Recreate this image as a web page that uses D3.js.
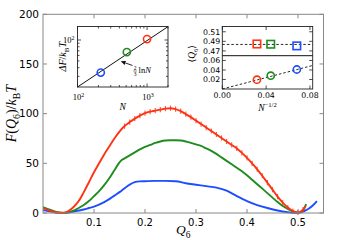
<!DOCTYPE html>
<html><head><meta charset="utf-8">
<script src="https://cdn.jsdelivr.net/npm/d3@7"></script>
<style>body{margin:0;background:#fff} svg{display:block}</style>
</head><body><svg id="c" width="338" height="240"></svg>
<script>
// ---------- main plot data ----------
const qRed = [0,0.01,0.02,0.03,0.04,0.05,0.06,0.07,0.08,0.09,0.10,0.11,0.12,0.13,0.14,0.15,0.16,0.17,0.18,0.19,0.20,0.21,0.22,0.23,0.24,0.25,0.26,0.27,0.28,0.29,0.30,0.31,0.32,0.33,0.34,0.35,0.36,0.37,0.38,0.39,0.40,0.41,0.42,0.43,0.44,0.45,0.46,0.47,0.48,0.49,0.50,0.51,0.515];
const fRed = [5,3,1.2,0.2,0.3,2,6,12,21,31,41,50,59,67,75,82,87.5,91.5,95,98,100.5,102,103,104,105,105.5,104.5,102.5,99.5,96.5,93,89.5,86,82.5,79,75.5,72,68.5,65,60.5,55.5,50,44,37.5,30.5,23.5,16.5,10.5,5.5,2,0.5,3.5,7];
const qGreen = [0,0.01,0.02,0.03,0.04,0.05,0.06,0.07,0.08,0.09,0.10,0.11,0.12,0.13,0.14,0.15,0.155,0.16,0.17,0.18,0.19,0.20,0.21,0.22,0.23,0.24,0.25,0.26,0.27,0.28,0.29,0.30,0.31,0.32,0.33,0.34,0.35,0.36,0.37,0.38,0.39,0.40,0.41,0.42,0.43,0.44,0.45,0.46,0.47,0.48,0.49,0.50,0.51,0.516];
const fGreen = [6,4,2,0.5,0,1,2.5,5,8,12,17,22,28,35,43,51,53.5,55,58,61,64,66.5,68.5,70.5,72,73,73.3,73.3,73,72,70.5,69,67.5,65,62.5,59.5,56,52.5,49,45.5,42,38,33.5,29,24.5,20,15.5,11,7,4,1.5,0.5,3,9];
const qBlue = [0,0.01,0.02,0.03,0.04,0.05,0.06,0.07,0.08,0.09,0.10,0.11,0.12,0.13,0.14,0.15,0.16,0.17,0.18,0.19,0.20,0.22,0.24,0.26,0.28,0.30,0.32,0.34,0.36,0.38,0.40,0.42,0.44,0.46,0.48,0.49,0.50,0.51,0.52,0.53,0.537];
const fBlue = [3,2,1,0.3,0,0.5,1.5,2.5,3.5,5,6.5,8.5,11,14,17.5,21,25,28.5,31,31.8,32,32.3,32.3,32,30,28.5,27,25.5,22.5,17,12,8,5,2.5,0.8,0.2,0.3,1.5,4,8,12];
const errHalf = 2.6;          // red error-bar half height (k_BT)
const errFrom = 0.16;          // error bars shown from this Q on
const xTicks = [0.1,0.2,0.3,0.4,0.5];
const yTicks = [0,50,100,150,200];

// ---------- inset 1 data ----------
const nVals = [216, 512, 1000];
const dFVals = [34, 67, 103];
const fitN = [100, 2000];
const fitF = [21.1, 155.6];
const in1XTicks = [100, 1000];
const in1XMinor = [200,300,400,500,600,700,800,900,2000];
const in1YTicks = [100];
const in1YMinor = [30,40,50,60,70,80,90];

// ---------- inset 2 data ----------
const invSqrtN = [0.0316, 0.0442, 0.068];
const q6Vals = [0.4845, 0.484, 0.4805];
const q6Mean = 0.4835;
const q4Vals = [0.0195, 0.028, 0.041];
const q4FitX = [0, 0.0825];
const q4FitY = [0, 0.0495];
const in2XTicks = [0, 0.04, 0.08];
const in2UpTicks = [0.47, 0.49, 0.51];
const in2LoTicks = [0.02, 0.04, 0.06];

const colors = ["#ff3311", "#1e8c1e", "#1f4cff"]; // N=1000, 512, 216
const ptColors = ["#1f4cff", "#1e8c1e", "#ff3311"]; // by nVals order

const svg = d3.select("#c");
const SANS = "'DejaVu Sans', sans-serif";
const SERIF = "'Liberation Serif', 'DejaVu Serif', serif";

function mathText(g, parts, size) {
  const t = g.append("text").attr("font-family", SERIF).attr("font-size", size).attr("fill", "#000");
  let off = 0;
  parts.forEach(([s, k]) => {
    const ts = t.append("tspan").text(s);
    let target = 0, fs = size;
    if (k === "sub" || k === "subi") { target = size * 0.3; fs = size * 0.7; }
    if (k === "sup") { target = -size * 0.4; fs = size * 0.7; }
    ts.attr("dy", target - off).attr("font-size", fs)
      .attr("font-style", (k === "i" || k === "subi") ? "italic" : "normal");
    off = target;
  });
  return t;
}

// ---------- main plot ----------
const X0 = 43, X1 = 323.5, Y0 = 14.3, Y1 = 213;
const x = d3.scaleLinear().domain([0, 0.55]).range([X0, X1]);
const y = d3.scaleLinear().domain([0, 200]).range([Y1, Y0]);

const main = svg.append("g");
const line = d3.line().x(d => x(d[0])).y(d => y(d[1])).curve(d3.curveMonotoneX);
const series = [[qBlue, fBlue, colors[2]], [qGreen, fGreen, colors[1]], [qRed, fRed, colors[0]]];

svg.append("clipPath").attr("id", "mc").append("rect")
  .attr("x", X0).attr("y", Y0).attr("width", X1 - X0).attr("height", Y1 - Y0 + 1);

series.forEach(([qs, fs, c]) => {
  main.append("path").datum(d3.zip(qs, fs)).attr("d", line)
    .attr("fill", "none").attr("stroke", c).attr("stroke-width", 1.9)
    .attr("clip-path", "url(#mc)");
});
main.append("g").selectAll("line").data(d3.zip(qRed, fRed).filter(d => d[0] >= errFrom && d[0] <= 0.51))
  .join("line")
  .attr("x1", d => x(d[0])).attr("x2", d => x(d[0]))
  .attr("y1", d => y(d[1] + errHalf)).attr("y2", d => y(d[1] - errHalf))
  .attr("stroke", colors[0]).attr("stroke-width", 1.1).attr("opacity", 0.85);

const frameCol = "#888";
main.append("rect").attr("x", X0).attr("y", Y0).attr("width", X1 - X0).attr("height", Y1 - Y0)
  .attr("fill", "none").attr("stroke", frameCol).attr("stroke-width", 1);
const tl = 4;
const tg = main.append("g").attr("stroke", frameCol).attr("stroke-width", 1);
xTicks.forEach(v => {
  tg.append("line").attr("x1", x(v)).attr("x2", x(v)).attr("y1", Y1).attr("y2", Y1 - tl);
  tg.append("line").attr("x1", x(v)).attr("x2", x(v)).attr("y1", Y0).attr("y2", Y0 + tl);
});
yTicks.forEach(v => {
  tg.append("line").attr("x1", X0).attr("x2", X0 + tl).attr("y1", y(v)).attr("y2", y(v));
  tg.append("line").attr("x1", X1).attr("x2", X1 - tl).attr("y1", y(v)).attr("y2", y(v));
});
main.append("g").selectAll("text").data(xTicks).join("text")
  .attr("x", d => x(d)).attr("y", 225.5).attr("text-anchor", "middle")
  .attr("font-family", SANS).attr("font-size", 10).text(d => d3.format(".1f")(d));
main.append("g").selectAll("text").data(yTicks).join("text")
  .attr("x", X0 - 4).attr("y", d => y(d) + 3.7).attr("text-anchor", "end")
  .attr("font-family", SANS).attr("font-size", 10.5).text(d => d);

mathText(main, [["F", "i"], ["(", "r"], ["Q", "i"], ["6", "sub"], [")/", "r"], ["k", "i"], ["B", "sub"], ["T", "i"]], 14)
  .attr("text-anchor", "middle").attr("transform", `translate(16,${(Y0 + Y1) / 2}) rotate(-90)`);
mathText(main, [["Q", "i"], ["6", "sub"]], 13.5)
  .attr("text-anchor", "middle").attr("x", (X0 + X1) / 2).attr("y", 234);

// ---------- inset 1 ----------
const A0 = 77.5, A1 = 168, B0 = 26.5, B1 = 87;
const lx = d3.scaleLog().domain([100, 2000]).range([A0, A1]);
const ly = d3.scaleLog().domain([21.1, 156.3]).range([B1, B0]);
const in1 = svg.append("g");
in1.append("rect").attr("x", A0).attr("y", B0).attr("width", A1 - A0).attr("height", B1 - B0)
  .attr("fill", "#fff").attr("stroke", "#222").attr("stroke-width", 0.9);
in1.append("path").datum(d3.zip(fitN, fitF))
  .attr("d", d3.line().x(d => lx(d[0])).y(d => ly(d[1])))
  .attr("stroke", "#111").attr("stroke-width", 1).attr("fill", "none");
const t1 = in1.append("g").attr("stroke", "#222").attr("stroke-width", 0.8);
in1XTicks.forEach(v => {
  t1.append("line").attr("x1", lx(v)).attr("x2", lx(v)).attr("y1", B1).attr("y2", B1 - 3.5);
  t1.append("line").attr("x1", lx(v)).attr("x2", lx(v)).attr("y1", B0).attr("y2", B0 + 3.5);
});
in1XMinor.forEach(v => {
  t1.append("line").attr("x1", lx(v)).attr("x2", lx(v)).attr("y1", B1).attr("y2", B1 - 2);
  t1.append("line").attr("x1", lx(v)).attr("x2", lx(v)).attr("y1", B0).attr("y2", B0 + 2);
});
in1YTicks.forEach(v => {
  t1.append("line").attr("x1", A0).attr("x2", A0 + 3.5).attr("y1", ly(v)).attr("y2", ly(v));
  t1.append("line").attr("x1", A1).attr("x2", A1 - 3.5).attr("y1", ly(v)).attr("y2", ly(v));
});
in1YMinor.forEach(v => {
  t1.append("line").attr("x1", A0).attr("x2", A0 + 2).attr("y1", ly(v)).attr("y2", ly(v));
  t1.append("line").attr("x1", A1).attr("x2", A1 - 2).attr("y1", ly(v)).attr("y2", ly(v));
});
in1.selectAll("circle.p").data(d3.zip(nVals, dFVals, ptColors)).join("circle")
  .attr("cx", d => lx(d[0])).attr("cy", d => ly(d[1])).attr("r", 3.6)
  .attr("fill", "none").attr("stroke", d => d[2]).attr("stroke-width", 1.6);
in1XTicks.forEach(v => {
  mathText(in1, [["10", "r"], [String(Math.round(Math.log10(v))), "sup"]], 8.5)
    .attr("text-anchor", "middle").attr("x", lx(v) + 1).attr("y", 100);
});
in1YTicks.forEach(v => {
  mathText(in1, [["10", "r"], [String(Math.round(Math.log10(v))), "sup"]], 8.5)
    .attr("text-anchor", "end").attr("x", A0 - 3).attr("y", ly(v) + 3);
});
mathText(in1, [["N", "i"]], 9.5).attr("text-anchor", "middle").attr("x", (A0 + A1) / 2).attr("y", 110);
mathText(in1, [["ΔF", "i"], ["/", "r"], ["k", "i"], ["B", "sub"], ["T", "i"]], 10)
  .attr("text-anchor", "middle").attr("transform", `translate(66,${(B0 + B1) / 2}) rotate(-90)`);
const tip = [429, 49], tail = [618, 43];
svg.append("defs").append("marker").attr("id", "ah").attr("viewBox", "0 0 10 10")
  .attr("refX", 9).attr("refY", 5).attr("markerWidth", 5).attr("markerHeight", 5).attr("orient", "auto")
  .append("path").attr("d", "M0,0L10,5L0,10z").attr("fill", "#111");
in1.append("line").attr("x1", lx(tail[0])).attr("y1", ly(tail[1])).attr("x2", lx(tip[0])).attr("y2", ly(tip[1]))
  .attr("stroke", "#111").attr("stroke-width", 0.9).attr("marker-end", "url(#ah)");
const fx = lx(tail[0]) + 2.5, fy = ly(tail[1]) + 5;
in1.append("text").attr("x", fx).attr("y", fy - 0.5).attr("text-anchor", "middle")
  .attr("font-family", SERIF).attr("font-size", 5.5).text("2");
in1.append("line").attr("x1", fx - 1.8).attr("x2", fx + 1.8).attr("y1", fy + 0.5).attr("y2", fy + 0.5)
  .attr("stroke", "#111").attr("stroke-width", 0.5);
in1.append("text").attr("x", fx).attr("y", fy + 5.5).attr("text-anchor", "middle")
  .attr("font-family", SERIF).attr("font-size", 5.5).text("3");
mathText(in1, [["ln", "r"], ["N", "i"]], 8.5).attr("x", fx + 3.5).attr("y", fy + 3);

// ---------- inset 2 ----------
const C0 = 222.3, C1 = 312.7, D0 = 26.5, DM = 55.7, D1 = 89;
const ix = d3.scaleLinear().domain([0, 0.0825]).range([C0, C1]);
const iyU = d3.scaleLinear().domain([0.46, 0.521]).range([DM, D0]);
const iyL = d3.scaleLinear().domain([0, 0.07]).range([D1, DM]);
const in2 = svg.append("g");
in2.append("rect").attr("x", C0).attr("y", D0).attr("width", C1 - C0).attr("height", D1 - D0)
  .attr("fill", "#fff").attr("stroke", "#222").attr("stroke-width", 0.9);
in2.append("line").attr("x1", C0).attr("x2", C1).attr("y1", DM).attr("y2", DM)
  .attr("stroke", "#111").attr("stroke-width", 1);
const t2 = in2.append("g").attr("stroke", "#222").attr("stroke-width", 0.8);
in2XTicks.forEach(v => {
  t2.append("line").attr("x1", ix(v)).attr("x2", ix(v)).attr("y1", D1).attr("y2", D1 - 3.5);
  t2.append("line").attr("x1", ix(v)).attr("x2", ix(v)).attr("y1", D0).attr("y2", D0 + 3.5);
});
in2UpTicks.forEach(v => {
  t2.append("line").attr("x1", C0).attr("x2", C0 + 3.5).attr("y1", iyU(v)).attr("y2", iyU(v));
  t2.append("line").attr("x1", C1).attr("x2", C1 - 3.5).attr("y1", iyU(v)).attr("y2", iyU(v));
});
in2LoTicks.forEach(v => {
  t2.append("line").attr("x1", C0).attr("x2", C0 + 3.5).attr("y1", iyL(v)).attr("y2", iyL(v));
  t2.append("line").attr("x1", C1).attr("x2", C1 - 3.5).attr("y1", iyL(v)).attr("y2", iyL(v));
});
in2.append("line").attr("x1", ix(0)).attr("x2", ix(0.0825)).attr("y1", iyU(q6Mean)).attr("y2", iyU(q6Mean))
  .attr("stroke", "#111").attr("stroke-width", 0.9).attr("stroke-dasharray", "2.5,2");
in2.append("path").datum(d3.zip(q4FitX, q4FitY))
  .attr("d", d3.line().x(d => ix(d[0])).y(d => iyL(d[1])))
  .attr("stroke", "#111").attr("stroke-width", 0.9).attr("stroke-dasharray", "2.5,2").attr("fill", "none");
const s = 7.5;
in2.selectAll("rect.sq").data(d3.zip(invSqrtN, q6Vals, ptColors.slice().reverse())).join("rect")
  .attr("x", d => ix(d[0]) - s / 2).attr("y", d => iyU(d[1]) - s / 2).attr("width", s).attr("height", s)
  .attr("fill", "none").attr("stroke", d => d[2]).attr("stroke-width", 1.6);
in2.selectAll("circle.c").data(d3.zip(invSqrtN, q4Vals, ptColors.slice().reverse())).join("circle")
  .attr("cx", d => ix(d[0])).attr("cy", d => iyL(d[1])).attr("r", 3.6)
  .attr("fill", "none").attr("stroke", d => d[2]).attr("stroke-width", 1.6);
in2.append("g").selectAll("text").data(in2XTicks).join("text")
  .attr("x", d => ix(d)).attr("y", 97.5).attr("text-anchor", "middle")
  .attr("font-family", SANS).attr("font-size", 7.8).text(d => d3.format(".2f")(d));
in2.append("g").selectAll("text").data(in2UpTicks).join("text")
  .attr("x", C0 - 2).attr("y", d => iyU(d) + 2.8).attr("text-anchor", "end")
  .attr("font-family", SANS).attr("font-size", 7.8).text(d => d3.format(".2f")(d));
in2.append("g").selectAll("text").data(in2LoTicks).join("text")
  .attr("x", C0 - 2).attr("y", d => iyL(d) + 2.8).attr("text-anchor", "end")
  .attr("font-family", SANS).attr("font-size", 7.8).text(d => d3.format(".2f")(d));
mathText(in2, [["⟨", "r"], ["Q", "i"], ["6", "sub"], ["⟩", "r"]], 9.5)
  .attr("text-anchor", "middle").attr("transform", `translate(195,${(D0 + D1) / 2 - 4}) rotate(-90)`);
mathText(in2, [["N", "i"], ["−1/2", "sup"]], 9.5)
  .attr("text-anchor", "middle").attr("x", (C0 + C1) / 2).attr("y", 111);
</script></body></html>
